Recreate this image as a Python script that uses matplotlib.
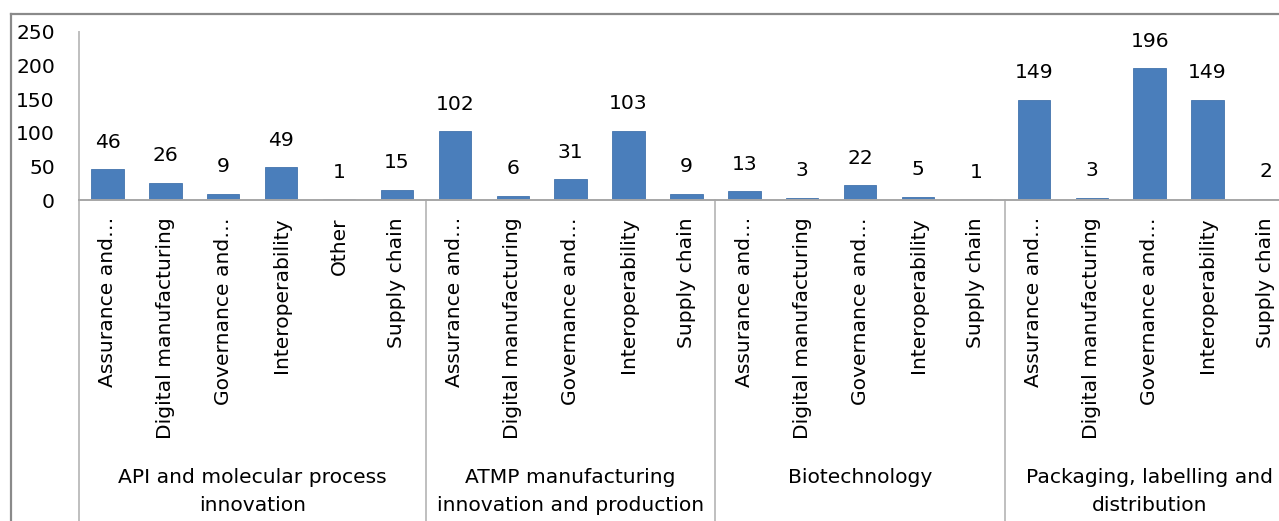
#!/usr/bin/env python3
"""
plot.py - grouped bar chart of counts per topic area and theme.
"""

import matplotlib
matplotlib.use("Agg")
import matplotlib.pyplot as plt
from matplotlib.lines import Line2D
from matplotlib.transforms import blended_transform_factory

groups = [
    "API and molecular process\ninnovation",
    "ATMP manufacturing\ninnovation and production",
    "Biotechnology",
    "Packaging, labelling and\ndistribution",
]
group_sizes = [6, 5, 5, 5]

categories = [
    "Assurance and…", "Digital manufacturing", "Governance and…",
    "Interoperability", "Other", "Supply chain",
    "Assurance and…", "Digital manufacturing", "Governance and…",
    "Interoperability", "Supply chain",
    "Assurance and…", "Digital manufacturing", "Governance and…",
    "Interoperability", "Supply chain",
    "Assurance and…", "Digital manufacturing", "Governance and…",
    "Interoperability", "Supply chain",
]
values = [46, 26, 9, 49, 1, 15,
          102, 6, 31, 103, 9,
          13, 3, 22, 5, 1,
          149, 3, 196, 149, 2]
y_ticks = [0, 50, 100, 150, 200, 250]

W, H = 1279, 521
BAR = "#4a7ebb"
AXIS = "#bfbfbf"
FS = 14.6

plt.rcParams["font.family"] = ["DejaVu Sans"]

fig = plt.figure(figsize=(W / 100, H / 100), dpi=100)
fig.patch.set_facecolor("white")

# plot area in pixels (the chart runs past the right edge of the image)
x0, cat_w = 78.5, 57.9
y_zero, y_top = 200, 32
ax = fig.add_axes([x0 / W, (H - y_zero) / H,
                   cat_w * len(values) / W, (y_zero - y_top) / H])
ax.set_xlim(-0.5, len(values) - 0.5)
ax.set_ylim(0, 250)

x = list(range(len(values)))
ax.bar(x, values, width=0.56, color=BAR, edgecolor="#4373ad", linewidth=0.6)

for xi, v in zip(x, values):
    ax.annotate(str(v), (xi, v), xytext=(0, 15.5), textcoords="offset points",
                ha="center", va="baseline", fontsize=FS)

ax.set_yticks(y_ticks)
ax.set_yticklabels([str(t) for t in y_ticks], fontsize=FS)
ax.tick_params(axis="y", length=0, pad=17)
ax.set_xticks([])

for s in ["top", "right"]:
    ax.spines[s].set_visible(False)
ax.spines["left"].set_color(AXIS)
ax.spines["left"].set_linewidth(1.4)
ax.spines["bottom"].set_color("#a6a6a6")
ax.spines["bottom"].set_linewidth(1.4)

# category labels, rotated, just under the zero line
trans = blended_transform_factory(ax.transData, ax.transAxes)
px = 1.0 / (y_zero - y_top)  # one pixel in axes units
for xi, name in zip(x, categories):
    ax.text(xi, -17 * px, name, rotation=90, ha="center", va="top",
            fontsize=FS, transform=trans, clip_on=False)

# group separators and group names
start = 0
bounds = [-0.5]
for name, n in zip(groups, group_sizes):
    mid = start + (n - 1) / 2
    ax.text(mid, -268 * px, name, ha="center", va="top", fontsize=FS,
            linespacing=1.62, transform=trans, clip_on=False)
    start += n
    bounds.append(start - 0.5)

for b in bounds[:-1]:
    ax.plot([b, b], [0, -(H - y_zero) * px], color=AXIS, lw=1.4,
            transform=trans, clip_on=False)

# outer chart frame (top and left edges visible)
fig.add_artist(Line2D([11 / W, 11 / W], [0, 1 - 14 / H], color="#8a8a8a",
                      lw=1.6, transform=fig.transFigure))
fig.add_artist(Line2D([11 / W, 1], [1 - 14 / H, 1 - 14 / H], color="#8a8a8a",
                      lw=1.6, transform=fig.transFigure))

fig.savefig("out.png", dpi=100)
